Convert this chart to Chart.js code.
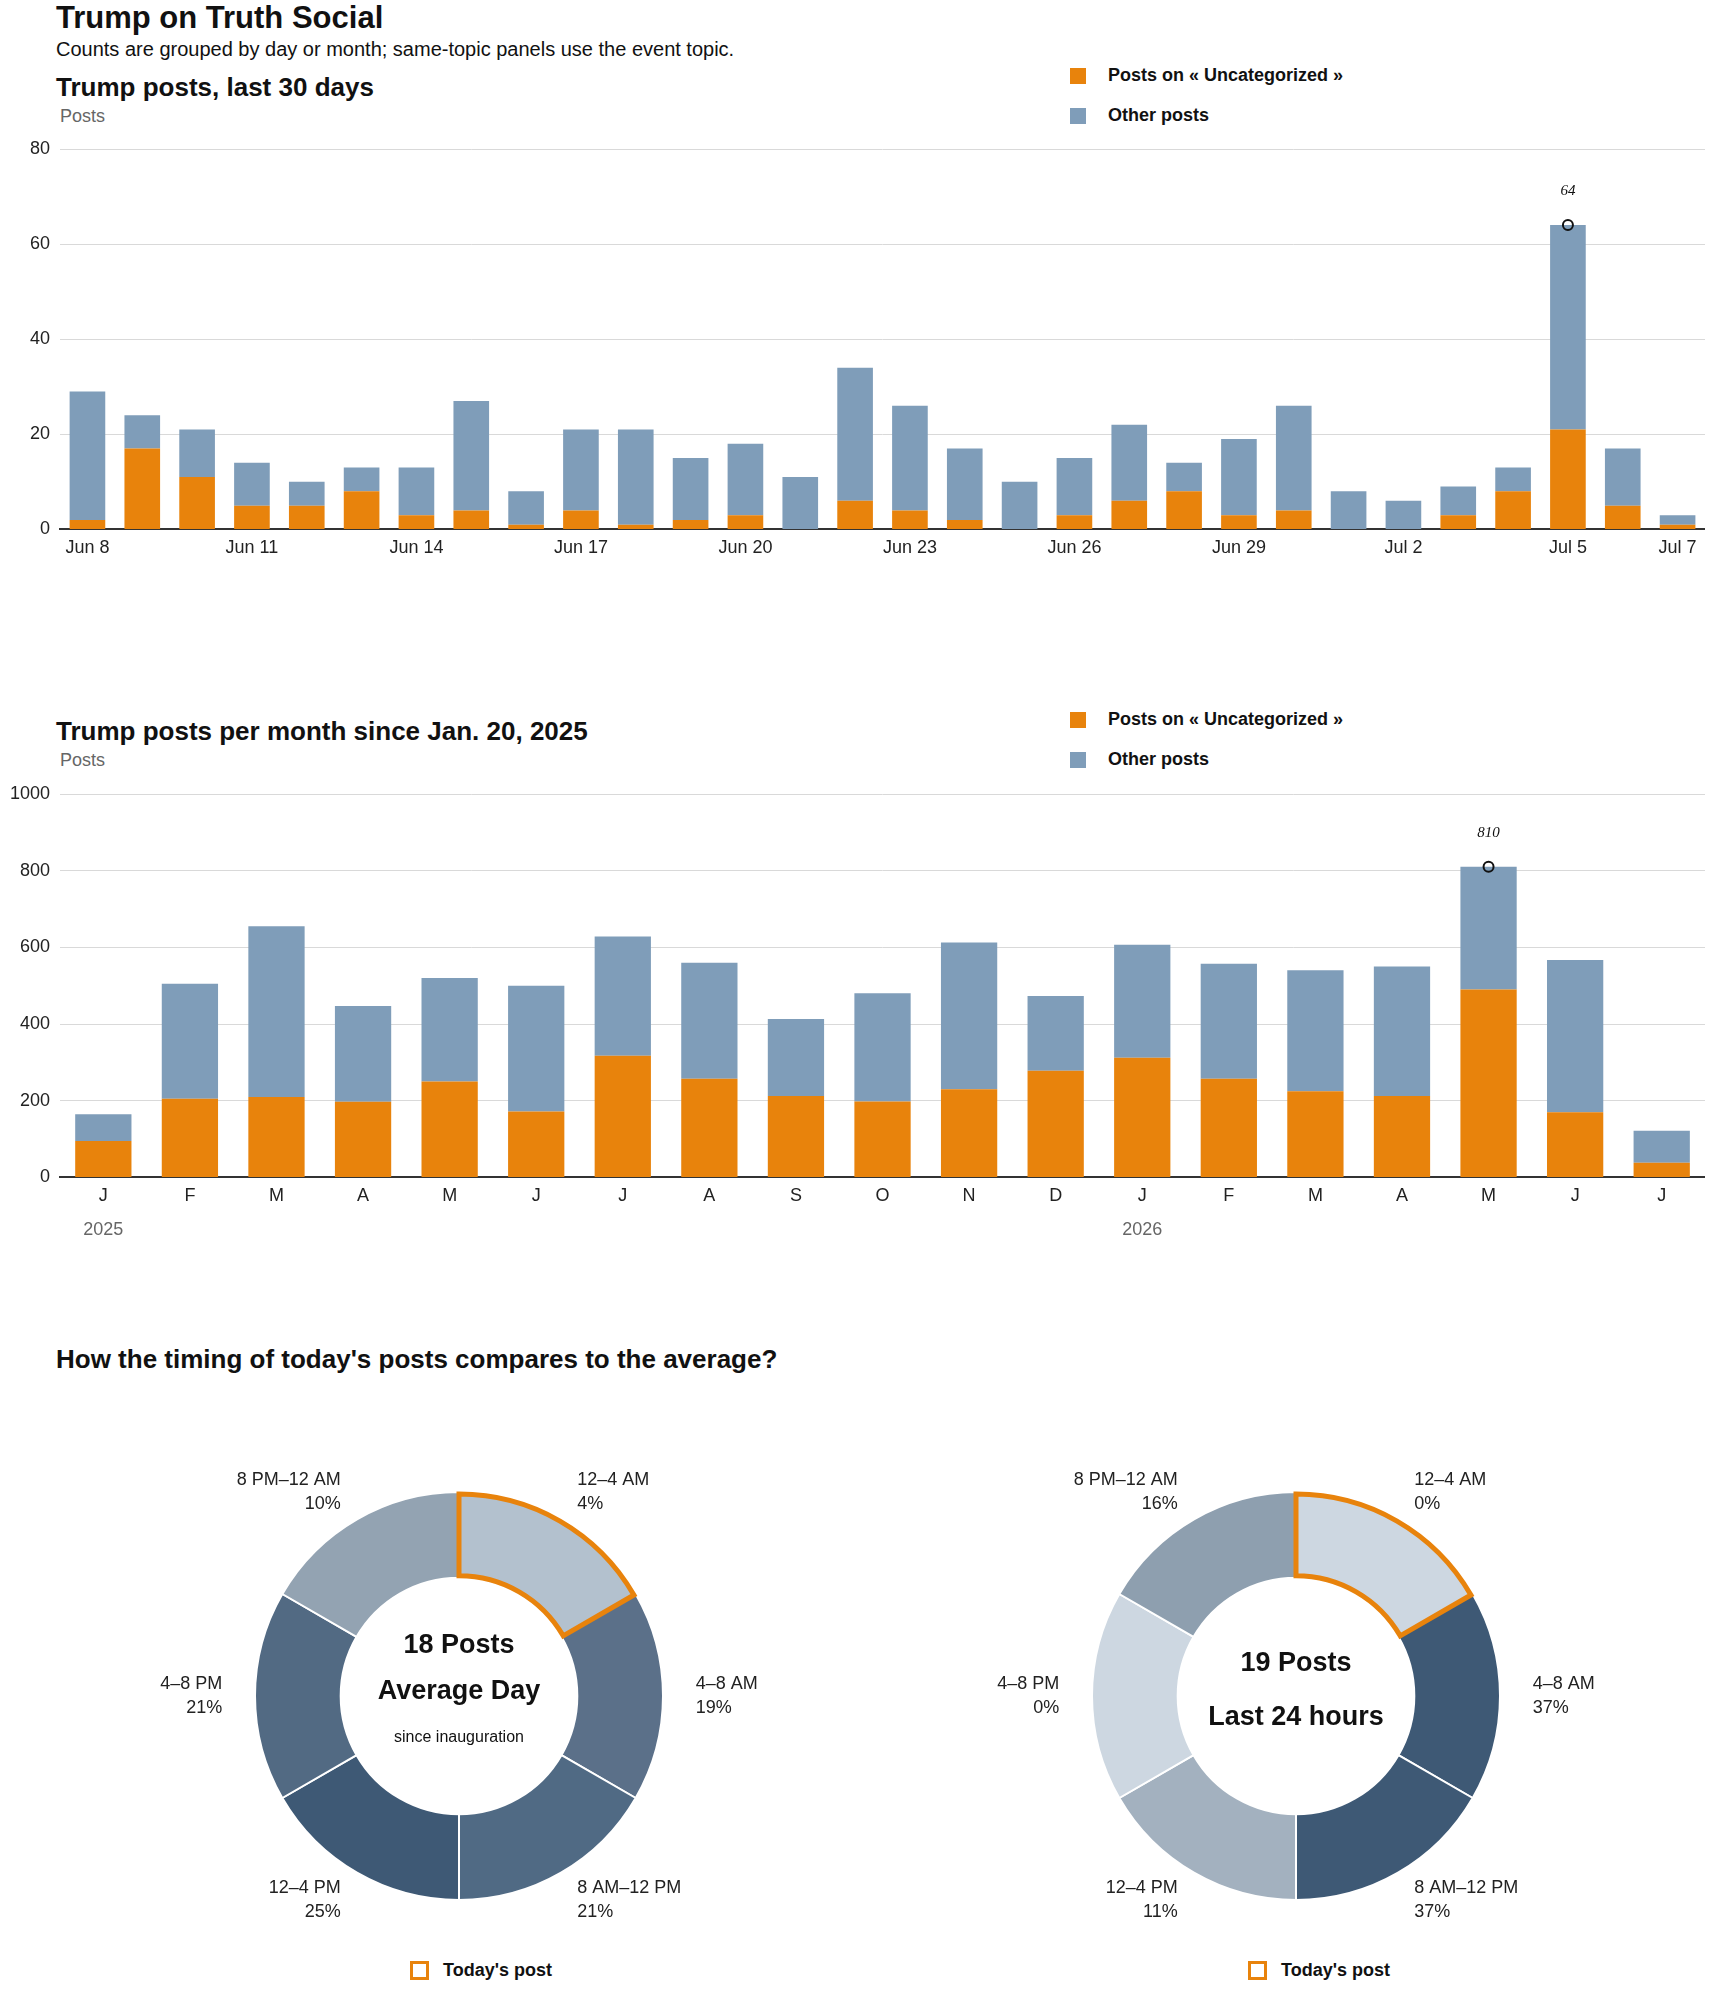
<!DOCTYPE html>
<html><head><meta charset="utf-8">
<script src="https://cdn.jsdelivr.net/npm/chart.js@4"></script>
<style>
body{margin:0;width:1710px;height:1993px;background:#fff;font-family:"Liberation Sans Narrow","Liberation Sans",sans-serif;color:#111;position:relative;overflow:hidden}
.abs{position:absolute}
h1{position:absolute;left:56px;top:0;margin:0;font-size:31px;font-weight:bold}
.sub{left:56px;top:38px;font-size:20px}
.h2{font-size:26px;font-weight:bold;left:56px}
.unit{font-size:18px;color:#666;left:60px}
.leg{font-size:18px;font-weight:bold;left:1108px}
.leg:before{content:"";position:absolute;left:-38px;top:3px;width:16px;height:16px;background:var(--c)}
.today{font-size:18px;font-weight:bold}
.today:before{content:"";position:absolute;left:-33px;top:1px;width:13px;height:13px;border:3px solid #e8830c}
canvas{position:absolute}
</style></head><body>
<h1>Trump on Truth Social</h1>
<div class="abs sub">Counts are grouped by day or month; same-topic panels use the event topic.</div>
<div class="abs h2" style="top:72px">Trump posts, last 30 days</div>
<div class="abs unit" style="top:106px">Posts</div>
<div class="abs leg" style="top:65px;--c:#e8830c">Posts on « Uncategorized »</div>
<div class="abs leg" style="top:105px;--c:#7f9db9">Other posts</div>
<div class="abs h2" style="top:716px">Trump posts per month since Jan. 20, 2025</div>
<div class="abs unit" style="top:750px">Posts</div>
<div class="abs leg" style="top:709px;--c:#e8830c">Posts on « Uncategorized »</div>
<div class="abs leg" style="top:749px;--c:#7f9db9">Other posts</div>
<div class="abs h2" style="top:1344px">How the timing of today's posts compares to the average?</div>
<div class="abs today" style="left:443px;top:1960px">Today's post</div>
<div class="abs today" style="left:1281px;top:1960px">Today's post</div>

<canvas id="daily" style="left:0;top:127px;width:1705px;height:440px"></canvas>
<canvas id="monthly" style="left:0;top:772px;width:1705px;height:475px"></canvas>
<canvas id="avg" style="left:159px;top:1396px;width:600px;height:600px"></canvas>
<canvas id="today" style="left:996px;top:1396px;width:600px;height:600px"></canvas>

<script>
// last 30 days
const dayLabels = ["Jun 8","Jun 9","Jun 10","Jun 11","Jun 12","Jun 13","Jun 14","Jun 15","Jun 16","Jun 17","Jun 18","Jun 19","Jun 20","Jun 21","Jun 22","Jun 23","Jun 24","Jun 25","Jun 26","Jun 27","Jun 28","Jun 29","Jun 30","Jul 1","Jul 2","Jul 3","Jul 4","Jul 5","Jul 6","Jul 7"];
const dayTotal = [29,24,21,14,10,13,13,27,8,21,21,15,18,11,34,26,17,10,15,22,14,19,26,8,6,9,13,64,17,3];
const dayUncat = [2,17,11,5,5,8,3,4,1,4,1,2,3,0,6,4,2,0,3,6,8,3,4,0,0,3,8,21,5,1];
const dayTicksShown = ["Jun 8","Jun 11","Jun 14","Jun 17","Jun 20","Jun 23","Jun 26","Jun 29","Jul 2","Jul 5","Jul 7"];

// monthly since inauguration
const monthLabels = ["J","F","M","A","M","J","J","A","S","O","N","D","J","F","M","A","M","J","J"];
const monthTotal = [165,505,655,447,520,500,628,560,413,480,613,473,607,557,540,550,810,567,122];
const monthUncat = [95,205,210,197,250,172,317,257,212,198,230,278,312,257,225,212,490,170,38];
const yearLabels = [[0,"2025"],[12,"2026"]];

// timing donuts
const slots = ["12–4 AM","4–8 AM","8 AM–12 PM","12–4 PM","4–8 PM","8 PM–12 AM"];
const avgPct = [4,19,21,25,21,10];
const todayPct = [0,37,37,11,0,16];
const avgColors = ["#b3c1ce","#5b7089","#506a84","#3e5975","#526a83","#93a3b2"];
const todayColors = ["#cdd7e1","#3e5975","#3e5975","#a3b1bf","#cdd7e1","#8e9faf"];

const FONT = "'Liberation Sans Narrow','Liberation Sans',sans-serif";
Chart.defaults.font.family = FONT;
Chart.defaults.color = "#222";
const ORANGE = "#e8830c", BLUE = "#7f9db9";

// circle + italic value on the tallest bar
const peakMarker = {
  id: "peakMarker",
  afterDatasetsDraw(chart, args, opts) {
    const tot = opts.totals, i = tot.indexOf(Math.max(...tot));
    const x = chart.scales.x.getPixelForValue(i), y = chart.scales.y.getPixelForValue(tot[i]);
    const c = chart.ctx;
    c.save();
    c.beginPath(); c.arc(x, y, 5, 0, Math.PI * 2);
    c.lineWidth = 2; c.strokeStyle = "#111"; c.stroke();
    c.font = "italic 15px 'Liberation Serif',serif"; c.fillStyle = "#111";
    c.textAlign = "center"; c.fillText(tot[i], x, y - 30);
    // year labels under the month ticks
    (opts.years || []).forEach(([k, t]) => {
      c.font = "18px " + FONT; c.fillStyle = "#666";
      c.fillText(t, chart.scales.x.getPixelForValue(k), chart.chartArea.bottom + 58);
    });
    c.restore();
  }
};

function barChart(id, labels, uncat, total, max, step, tickFilter, years, pad) {
  new Chart(document.getElementById(id), {
    type: "bar",
    data: {
      labels,
      datasets: [
        { label: "Uncategorized", data: uncat, backgroundColor: ORANGE },
        { label: "Other", data: total.map((t, i) => t - uncat[i]), backgroundColor: BLUE }
      ]
    },
    options: {
      responsive: false, animation: false,
      layout: { padding: pad },
      plugins: { legend: { display: false }, tooltip: { enabled: false },
        peakMarker: { totals: total, years } },
      datasets: { bar: { categoryPercentage: 0.65, barPercentage: 1 } },
      scales: {
        x: { stacked: true, grid: { display: false, drawTicks: false },
          border: { color: "#333", width: 2 },
          ticks: { autoSkip: false, maxRotation: 0, font: { size: 18 }, padding: 8,
            callback(v) { const l = this.getLabelForValue(v); return tickFilter(l, v) ? l : ""; } } },
        y: { stacked: true, min: 0, max, grid: { color: "#d9d9d9", drawTicks: false },
          border: { display: false },
          ticks: { stepSize: step, font: { size: 18 }, padding: 10, callback: v => String(v) } }
      }
    },
    plugins: [peakMarker]
  });
}
function size(id) { const c = document.getElementById(id); c.width = parseInt(c.style.width); c.height = parseInt(c.style.height); }
["daily","monthly","avg","today"].forEach(size);

barChart("daily", dayLabels, dayUncat, dayTotal, 80, 20, l => dayTicksShown.includes(l), [], { top: 22, left: 20, bottom: 0 });
barChart("monthly", monthLabels, monthUncat, monthTotal, 1000, 200, () => true, yearLabels, { top: 22, left: 0, bottom: 32 });

// outline highlighted slice + labels around the ring + center text
const ringText = {
  id: "ringText",
  afterDatasetsDraw(chart, args, opts) {
    const c = chart.ctx, arc = chart.getDatasetMeta(0).data[0];
    const { x, y, startAngle, endAngle, innerRadius, outerRadius } = arc.getProps(["x","y","startAngle","endAngle","innerRadius","outerRadius"]);
    c.save();
    c.beginPath();
    c.arc(x, y, outerRadius - 2, startAngle, endAngle);
    c.arc(x, y, innerRadius + 2, endAngle, startAngle, true);
    c.closePath();
    c.lineWidth = 5; c.strokeStyle = ORANGE; c.lineJoin = "miter"; c.stroke();
    const R = outerRadius;
    const pos = [[0.58,-1.06],[1.16,-0.06],[0.58,0.94],[-0.58,0.94],[-1.16,-0.06],[-0.58,-1.06]];
    c.font = "18px " + FONT; c.fillStyle = "#222"; c.textBaseline = "middle";
    slots.forEach((s, i) => {
      const [dx, dy] = pos[i];
      c.textAlign = dx > 0 ? "left" : "right";
      c.fillText(s, x + dx * R, y + dy * R);
      c.fillText(opts.pct[i] + "%", x + dx * R, y + dy * R + 24);
    });
    c.textAlign = "center"; c.fillStyle = "#111";
    opts.center.forEach(([t, f, dy]) => { c.font = f + " " + FONT; c.fillText(t, x, y + dy); });
    c.restore();
  }
};
function donut(id, pct, colors, center) {
  new Chart(document.getElementById(id), {
    type: "doughnut",
    data: { labels: slots, datasets: [{ data: slots.map(() => 1), backgroundColor: colors, borderColor: "#fff", borderWidth: 2 }] },
    options: {
      responsive: false, animation: false, cutout: "58%",
      layout: { padding: 95 },
      plugins: { legend: { display: false }, tooltip: { enabled: false }, ringText: { pct, center } }
    },
    plugins: [ringText]
  });
}
donut("avg", avgPct, avgColors, [["18 Posts","bold 27px",-50],["Average Day","bold 27px",-4],["since inauguration","16px",42]]);
donut("today", todayPct, todayColors, [["19 Posts","bold 27px",-32],["Last 24 hours","bold 27px",22]]);
</script>
</body></html>
